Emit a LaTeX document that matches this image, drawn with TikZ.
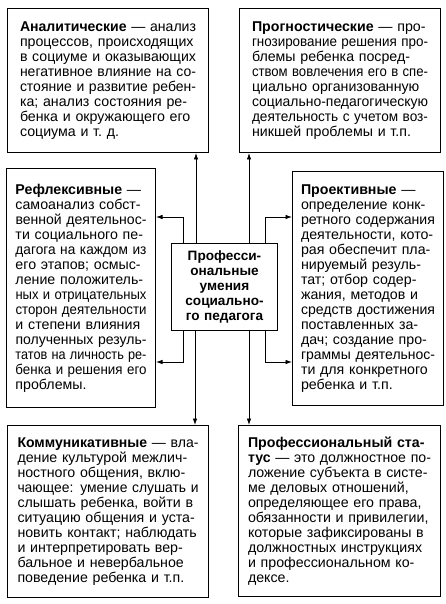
\documentclass[tikz,border=0pt]{standalone}
\usepackage{fontspec}
\setmainfont{Liberation Sans}
\usepackage{graphicx}
\usetikzlibrary{arrows.meta}

% one justified row of a box: spaces stretched, or the row squeezed if too long
\newsavebox\skillrow
\newcommand\fitrow[1]{\sbox\skillrow{#1}%
  \ifdim\wd\skillrow>\hsize
    \resizebox{\hsize}{\height}{\usebox\skillrow}%
  \else
    \makebox[\hsize][s]{#1}%
  \fi}

\begin{document}
\begin{tikzpicture}[
    x=1pt, y=-1pt,
    >={Latex[length=6.5pt,width=4.5pt]},
    skillbox/.style={draw, line width=1pt, anchor=north west,
      inner xsep=2pt, inner ysep=2pt, align=left,
      font=\fontsize{14.2}{15}\selectfont},
    corebox/.style={draw, line width=1pt, anchor=north west,
      inner sep=2pt, text width=100pt, align=center,
      font=\bfseries\fontsize{13.6}{14.8}\selectfont},
    link/.style={->, line width=0.8pt}
  ]

  \useasboundingbox (0,0) rectangle (446,604);

  % --- Top boxes ---
  \node[skillbox, text width=176pt, minimum width=201pt, minimum height=144pt] (anal) at (7,8) {%
    \fitrow{\textbf{Аналитические} — анализ}\\
    \fitrow{процессов, происходящих}\\
    \fitrow{в социуме и оказывающих}\\
    \fitrow{негативное влияние на со-}\\
    \fitrow{стояние и развитие ребен-}\\
    \fitrow{ка; анализ состояния ре-}\\
    \fitrow{бенка и окружающего его}\\
    социума и т.~д.};

  \node[skillbox, text width=176pt, minimum width=201pt, minimum height=144pt] (progn) at (239,8) {%
    \fitrow{\textbf{Прогностические} — про-}\\
    \fitrow{гнозирование решения про-}\\
    \fitrow{блемы ребенка посред-}\\
    \fitrow{ством вовлечения его в спе-}\\
    \fitrow{циально организованную}\\
    \fitrow{социально-педагогическую}\\
    \fitrow{деятельность с учетом воз-}\\
    никшей проблемы и т.п.};

  % --- Middle row ---
  \node[skillbox, text width=131pt, minimum width=149pt, minimum height=239pt] (refl) at (6,168) {%
    \fitrow{\textbf{Рефлексивные} —}\\
    \fitrow{самоанализ собст-}\\
    \fitrow{венной деятельнос-}\\
    \fitrow{ти социального пе-}\\
    \fitrow{дагога на каждом из}\\
    \fitrow{его этапов; осмыс-}\\
    \fitrow{ление положитель-}\\
    \fitrow{ных и отрицательных}\\
    \fitrow{сторон деятельности}\\
    \fitrow{и степени влияния}\\
    \fitrow{полученных резуль-}\\
    \fitrow{татов на личность ре-}\\
    \fitrow{бенка и решения его}\\
    проблемы.};

  \node[skillbox, text width=134pt, minimum width=151pt, minimum height=234pt] (proekt) at (292,171) {%
    \fitrow{\textbf{Проективные} —}\\
    \fitrow{определение конк-}\\
    \fitrow{ретного содержания}\\
    \fitrow{деятельности, кото-}\\
    \fitrow{рая обеспечит пла-}\\
    \fitrow{нируемый резуль-}\\
    \fitrow{тат; отбор содер-}\\
    \fitrow{жания, методов и}\\
    \fitrow{средств достижения}\\
    \fitrow{поставленных за-}\\
    \fitrow{дач; создание про-}\\
    \fitrow{граммы деятельнос-}\\
    \fitrow{ти для конкретного}\\
    ребенка и т.п.};

  \node[corebox, minimum width=106pt, minimum height=87pt] (core) at (171,243)
    {Професси-\\ональные\\умения\\социально-\\го педагога};

  % --- Bottom boxes ---
  \node[skillbox, text width=181pt, minimum width=201pt, minimum height=172pt] (komm) at (7,425) {%
    \fitrow{\textbf{Коммуникативные} — вла-}\\
    \fitrow{дение культурой межлич-}\\
    \fitrow{ностного общения, вклю-}\\
    \fitrow{чающее: умение слушать и}\\
    \fitrow{слышать ребенка, войти в}\\
    \fitrow{ситуацию общения и уста-}\\
    \fitrow{новить контакт; наблюдать}\\
    \fitrow{и интерпретировать вер-}\\
    \fitrow{бальное и невербальное}\\
    поведение ребенка и т.п.};

  \node[skillbox, text width=183pt, minimum width=202pt, minimum height=171pt] (status) at (238,425) {%
    \fitrow{\textbf{Профессиональный ста-}}\\
    \fitrow{\textbf{тус} — это должностное по-}\\
    \fitrow{ложение субъекта в систе-}\\
    \fitrow{ме деловых отношений,}\\
    \fitrow{определяющее его права,}\\
    \fitrow{обязанности и привилегии,}\\
    \fitrow{которые зафиксированы в}\\
    \fitrow{должностных инструкциях}\\
    \fitrow{и профессиональном ко-}\\
    дексе.};

  % --- Connector starts on the centre box ---
  \coordinate (ua) at ([xshift=25pt]core.north west);
  \coordinate (ub) at ([xshift=-29pt]core.north east);
  \coordinate (uc) at ([xshift=12pt]core.north west);
  \coordinate (ud) at ([xshift=-13pt]core.north east);
  \coordinate (la) at ([xshift=24pt]core.south west);
  \coordinate (lb) at ([xshift=-29pt]core.south east);
  \coordinate (lc) at ([xshift=12pt]core.south west);
  \coordinate (ld) at ([xshift=-13pt]core.south east);
  \coordinate (hup) at ([yshift=-49pt]refl.north east);
  \coordinate (hlow) at ([yshift=46pt]refl.south east);

  % --- Arrows ---
  \draw[link] (ua) -- (ua |- anal.south);
  \draw[link] (ub) -- (ub |- progn.south);
  \draw[link] (uc) |- (hup);
  \draw[link] (ud) |- (proekt.west |- hup);
  \draw[link] (lc) |- (hlow);
  \draw[link] (ld) |- (proekt.west |- hlow);
  \draw[link] (la) -- (la |- komm.north);
  \draw[link] (lb) -- (lb |- status.north);

\end{tikzpicture}
\end{document}
